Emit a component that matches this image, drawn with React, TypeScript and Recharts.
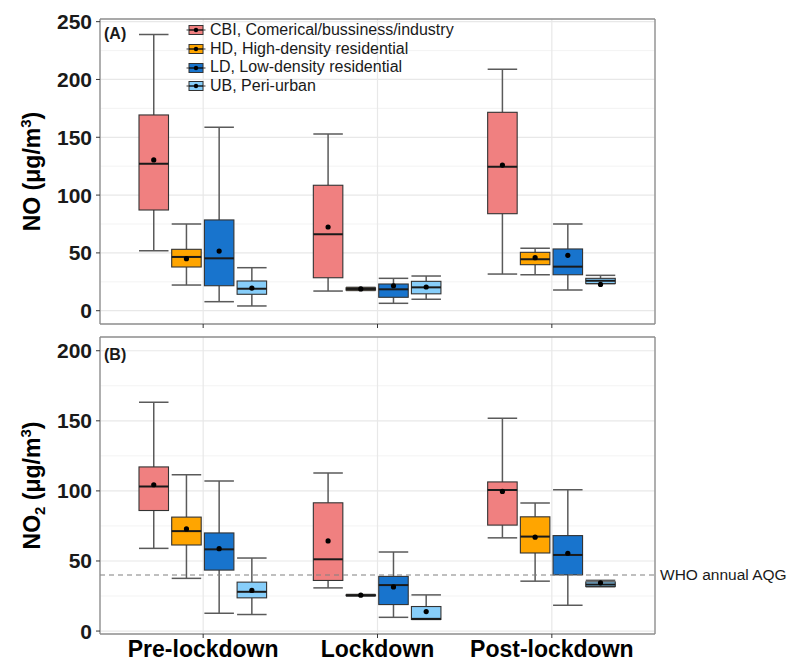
import React from 'react';
import { ComposedChart, Bar, XAxis, YAxis, CartesianGrid, ReferenceLine, Legend } from 'recharts';

const FONT = '"Liberation Sans", Arial, Helvetica, sans-serif';

const periods = ['Pre-lockdown', 'Lockdown', 'Post-lockdown'];
const siteKeys = ['CBI', 'HD', 'LD', 'UB'];
const siteLabels = [
  'CBI, Comerical/bussiness/industry',
  'HD, High-density residential',
  'LD, Low-density residential',
  'UB, Peri-urban',
];
const siteColors = ['#F08080', '#FFA500', '#1874CD', '#87CEFA'];

// box statistics per period: [min, q1, median, q3, max, mean]
const noCBI = [
  [51.9, 87.1, 127.2, 169.3, 238.8, 130.4],
  [17.0, 28.5, 66.1, 108.5, 152.9, 72.4],
  [31.7, 83.9, 124.6, 171.6, 208.8, 126.0],
];
const noHD = [
  [22.2, 37.8, 46.5, 53.1, 75.0, 45.0],
  [17.5, 17.8, 18.8, 19.8, 20.2, 18.8],
  [31.1, 39.8, 44.5, 50.5, 54.0, 45.9],
];
const noLD = [
  [7.8, 21.6, 45.3, 78.5, 158.6, 51.6],
  [6.4, 11.6, 18.5, 23.1, 28.0, 21.6],
  [17.9, 31.1, 38.1, 53.4, 75.0, 47.9],
];
const noUB = [
  [4.1, 14.2, 19.0, 25.7, 37.2, 19.6],
  [9.9, 14.6, 20.2, 25.4, 30.0, 20.5],
  [23.4, 23.5, 25.9, 28.0, 30.6, 22.7],
];

const no2CBI = [
  [59.0, 86.0, 103.2, 117.1, 163.2, 104.4],
  [30.8, 36.1, 51.2, 91.5, 112.8, 64.3],
  [66.5, 75.6, 100.6, 106.4, 151.8, 99.6],
];
const no2HD = [
  [37.6, 61.4, 71.3, 81.3, 111.6, 72.9],
  [25.0, 25.3, 25.5, 25.8, 26.1, 25.6],
  [35.6, 55.7, 67.4, 81.5, 91.3, 67.0],
];
const no2LD = [
  [12.7, 43.5, 58.3, 70.0, 107.1, 58.8],
  [9.8, 18.9, 32.8, 39.0, 56.4, 31.5],
  [18.4, 40.1, 54.3, 68.1, 100.9, 55.5],
];
const no2UB = [
  [11.8, 23.7, 28.0, 34.9, 52.1, 29.0],
  [8.3, 8.3, 8.7, 17.5, 25.8, 13.9],
  [31.6, 31.8, 33.2, 35.1, 36.2, 34.4],
];

const noTicks = [0, 50, 100, 150, 200, 250];
const noMinor = [25, 75, 125, 175, 225];
const noDomain = [-11.5, 252.3];
const no2Ticks = [0, 50, 100, 150, 200];
const no2Minor = [25, 75, 125, 175];
const no2Domain = [-2.1, 209.8];
const whoAQG = 40;

const buildRows = (cbi: number[][], hd: number[][], ld: number[][], ub: number[][]) =>
  periods.map((period, i) => ({ period, CBI: cbi[i], HD: hd[i], LD: ld[i], UB: ub[i] }));

const noRows = buildRows(noCBI, noHD, noLD, noUB);
const no2Rows = buildRows(no2CBI, no2HD, no2LD, no2UB);

const WHISKER = '#5a5a5a';
const BORDER = '#8c8c8c';

const makeBoxShape = (key: string, color: string) => (props: any) => {
  const { x, y, width, height, payload } = props;
  const s = payload && payload[key];
  if (!s) return <g />;
  const [mn, q1, md, q3, mx, mean] = s;
  const span = mx - mn;
  const py = (v: number) => y + (span === 0 ? 0 : (height * (mx - v)) / span);
  const cx = x + width / 2;
  return (
    <g>
      <line x1={cx} x2={cx} y1={py(mx)} y2={py(q3)} stroke={WHISKER} strokeWidth={1.5} />
      <line x1={cx} x2={cx} y1={py(q1)} y2={py(mn)} stroke={WHISKER} strokeWidth={1.5} />
      <line x1={x} x2={x + width} y1={py(mx)} y2={py(mx)} stroke={WHISKER} strokeWidth={1.5} />
      <line x1={x} x2={x + width} y1={py(mn)} y2={py(mn)} stroke={WHISKER} strokeWidth={1.5} />
      <rect x={x} y={py(q3)} width={width} height={Math.max(py(q1) - py(q3), 0.5)} fill={color} stroke="#333333" strokeWidth={1.1} />
      <line x1={x} x2={x + width} y1={py(md)} y2={py(md)} stroke="#1a1a1a" strokeWidth={2} />
      <circle cx={cx} cy={py(mean)} r={2.6} fill="#000" />
    </g>
  );
};

const boxShapes = siteKeys.map((k, i) => makeBoxShape(k, siteColors[i]));

const LegendBox = () => (
  <div style={{ fontFamily: FONT, fontSize: 16, color: '#1a1a1a', lineHeight: '18.7px' }}>
    {siteLabels.map((label, i) => (
      <div key={label} style={{ display: 'flex', alignItems: 'center', height: 18.7, whiteSpace: 'nowrap' }}>
        <svg width={20} height={14} style={{ marginRight: 4, flex: 'none' }}>
          <line x1={0.5} x2={19.5} y1={7} y2={7} stroke={WHISKER} strokeWidth={1.2} />
          <rect x={3} y={2.5} width={14} height={9} fill={siteColors[i]} stroke="#333" strokeWidth={1} />
          <line x1={3} x2={17} y1={7} y2={7} stroke="#111" strokeWidth={1.4} />
          <circle cx={10} cy={7} r={2.2} fill="#000" />
        </svg>
        <span>{label}</span>
      </div>
    ))}
  </div>
);

const yLabelA = (props: any) => {
  const vb = props.viewBox || { x: 0, y: 19, width: 100, height: 305 };
  const cx = vb.x + 40;
  const cy = vb.y + vb.height / 2;
  return (
    <text x={cx} y={cy} transform={`rotate(-90 ${cx} ${cy})`} textAnchor="middle" fontFamily={FONT} fontWeight={700} fontSize={23} fill="#000">
      NO (μg/m<tspan dy={-9} fontSize={15}>3</tspan><tspan dy={9}>)</tspan>
    </text>
  );
};

const yLabelB = (props: any) => {
  const vb = props.viewBox || { x: 0, y: 2, width: 100, height: 297 };
  const cx = vb.x + 40;
  const cy = vb.y + vb.height / 2;
  return (
    <text x={cx} y={cy} transform={`rotate(-90 ${cx} ${cy})`} textAnchor="middle" fontFamily={FONT} fontWeight={700} fontSize={23} fill="#000">
      NO<tspan dy={5} fontSize={15}>2</tspan><tspan dy={-5}> (μg/m</tspan><tspan dy={-9} fontSize={15}>3</tspan><tspan dy={9}>)</tspan>
    </text>
  );
};

const tickStyle = { fontSize: 21, fontWeight: 700, fill: '#1a1a1a', fontFamily: FONT };
const xTickStyle = { fontSize: 23, fontWeight: 700, fill: '#000', fontFamily: FONT };

function renderBars() {
  return siteKeys.map((k, i) => (
    <Bar
      key={k}
      dataKey={(row: any) => [row[k][0], row[k][4]]}
      name={siteLabels[i]}
      fill={siteColors[i]}
      shape={boxShapes[i]}
      isAnimationActive={false}
    />
  ));
}

export default function App() {
  return (
    <div style={{ position: 'absolute', left: 0, top: 0, width: 800, height: 671, background: '#fff' }}>
      <div style={{ position: 'absolute', left: 0, top: 0 }}>
        <ComposedChart
          width={800}
          height={335}
          data={noRows}
          margin={{ top: 18, right: 144, bottom: 0, left: 0 }}
          barSize={29.5}
          barGap={3.2}
        >
          <CartesianGrid horizontalValues={noMinor} vertical={false} stroke="#f0f0f0" strokeWidth={0.8} />
          <CartesianGrid horizontalValues={noTicks} stroke="#e8e8e8" strokeWidth={1.2} />
          <XAxis
            dataKey="period"
            padding={{ left: 16, right: 16 }}
            height={11}
            interval={0}
            tickFormatter={() => ''}
            tickSize={4}
            tickLine={{ stroke: '#333' }}
            axisLine={{ stroke: BORDER, strokeWidth: 1.3 }}
          />
          <XAxis xAxisId="t" dataKey="period" orientation="top" height={1} tick={false} tickLine={false} axisLine={{ stroke: BORDER, strokeWidth: 1.3 }} />
          <YAxis
            type="number"
            domain={noDomain}
            ticks={noTicks}
            allowDataOverflow
            width={100}
            tick={tickStyle}
            tickSize={4}
            tickMargin={4}
            tickLine={{ stroke: '#333' }}
            axisLine={{ stroke: BORDER, strokeWidth: 1.3 }}
            label={yLabelA}
          />
          <YAxis yAxisId="r" orientation="right" type="number" domain={noDomain} allowDataOverflow width={1} tick={false} tickLine={false} axisLine={{ stroke: BORDER, strokeWidth: 1.3 }} />
          {renderBars()}
          <Legend
            layout="vertical"
            align="center"
            verticalAlign="middle"
            wrapperStyle={{ left: 186, top: 21, width: 330 }}
            content={() => <LegendBox />}
          />
        </ComposedChart>
      </div>
      <div style={{ position: 'absolute', left: 0, top: 335 }}>
        <ComposedChart
          width={800}
          height={336}
          data={no2Rows}
          margin={{ top: 1, right: 144, bottom: 0, left: 0 }}
          barSize={29.5}
          barGap={3.2}
        >
          <CartesianGrid horizontalValues={no2Minor} vertical={false} stroke="#f0f0f0" strokeWidth={0.8} />
          <CartesianGrid horizontalValues={no2Ticks} stroke="#e8e8e8" strokeWidth={1.2} />
          <XAxis
            dataKey="period"
            padding={{ left: 16, right: 16 }}
            height={37}
            interval={0}
            tick={xTickStyle}
            tickSize={4}
            tickMargin={3}
            tickLine={{ stroke: '#333' }}
            axisLine={{ stroke: BORDER, strokeWidth: 1.3 }}
          />
          <XAxis xAxisId="t" dataKey="period" orientation="top" height={1} tick={false} tickLine={false} axisLine={{ stroke: BORDER, strokeWidth: 1.3 }} />
          <YAxis
            type="number"
            domain={no2Domain}
            ticks={no2Ticks}
            allowDataOverflow
            width={100}
            tick={tickStyle}
            tickSize={4}
            tickMargin={4}
            tickLine={{ stroke: '#333' }}
            axisLine={{ stroke: BORDER, strokeWidth: 1.3 }}
            label={yLabelB}
          />
          <YAxis yAxisId="r" orientation="right" type="number" domain={no2Domain} allowDataOverflow width={1} tick={false} tickLine={false} axisLine={{ stroke: BORDER, strokeWidth: 1.3 }} />
          {renderBars()}
          <ReferenceLine
            y={whoAQG}
            stroke="#808080"
            strokeWidth={1.2}
            strokeDasharray="5 4"
            label={{ value: 'WHO annual AQG', position: 'right', fill: '#1a1a1a', fontSize: 15.5, fontFamily: FONT }}
          />
        </ComposedChart>
      </div>
      <div style={{ position: 'absolute', left: 104, top: 26, fontFamily: FONT, fontWeight: 700, fontSize: 16, lineHeight: '16px', color: '#1a1a1a' }}>(A)</div>
      <div style={{ position: 'absolute', left: 104, top: 347, fontFamily: FONT, fontWeight: 700, fontSize: 16, lineHeight: '16px', color: '#1a1a1a' }}>(B)</div>
    </div>
  );
}
